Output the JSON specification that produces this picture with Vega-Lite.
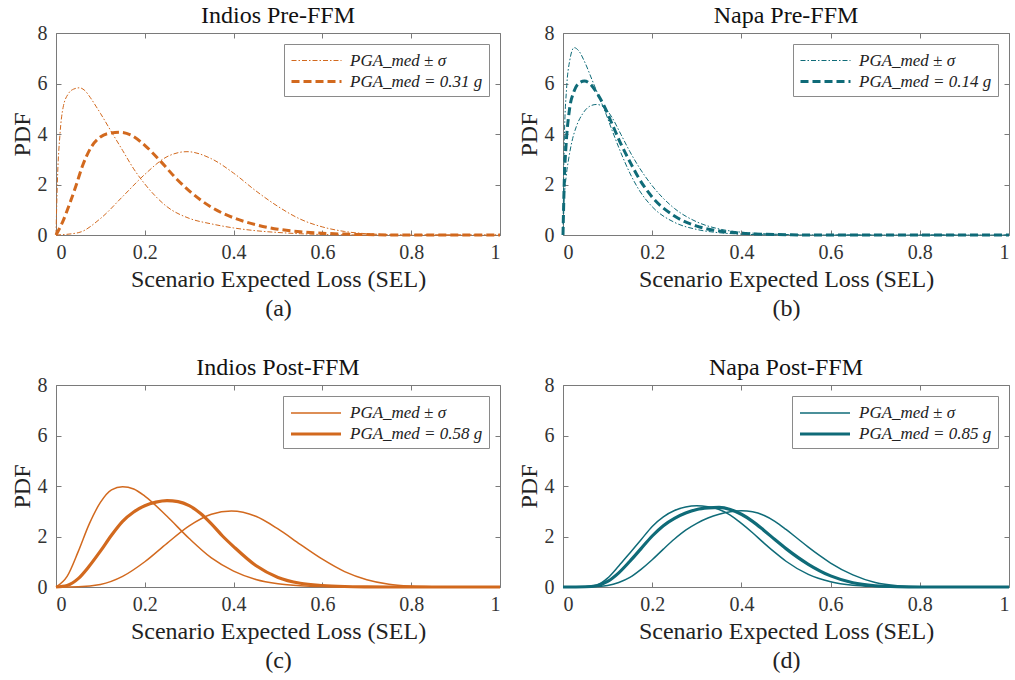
{
"$schema": "https://vega.github.io/schema/vega-lite/v6.json",
"background": "white",
"padding": {"left": 9, "top": 3, "right": 0, "bottom": 0},
"config": {
  "font": "Liberation Serif, Times New Roman, serif",
  "view": {"stroke": "#7a7a7a", "strokeWidth": 1},
  "axis": {"grid": false, "domain": false, "labelFont": "Liberation Serif, Times New Roman, serif", "labelFontSize": 20, "labelColor": "#333333", "titleFont": "Liberation Serif, Times New Roman, serif", "titleFontSize": 24, "titleFontWeight": "normal", "titleColor": "#222222", "tickColor": "#7a7a7a", "tickSize": -5, "labelPadding": 14},
  "axisX": {"titlePadding": 5, "titleLineHeight": 29, "labelPadding": 12},
  "axisY": {"titlePadding": 3},
  "title": {"font": "Liberation Serif, Times New Roman, serif", "fontSize": 24, "fontWeight": "normal", "color": "#111111", "offset": -5},
  "legend": {"labelFont": "Liberation Serif, Times New Roman, serif", "labelFontStyle": "italic", "labelFontSize": 17, "labelColor": "#222222", "strokeColor": "#8a8a8a", "padding": 6, "symbolType": "M-2.5,0H2.5", "symbolSize": 400, "symbolOffset": 15, "labelOffset": 22, "rowPadding": 1, "orient": "top-right", "offset": 11, "title": null, "fillColor": "white"}
},
"resolve": {"scale": {"strokeDash": "independent", "strokeWidth": "independent"}, "legend": {"strokeDash": "independent", "strokeWidth": "independent"}},
"spacing": 34,
"vconcat": [
{"hconcat": [
{
 "width": 444, "height": 202, "title": "Indios Pre-FFM",
 "data": {"values": [
  {"curve":"lo","kind":"PGA_med ± σ","sel":0,"pdf":0},{"curve":"lo","kind":"PGA_med ± σ","sel":0.003,"pdf":2.05},{"curve":"lo","kind":"PGA_med ± σ","sel":0.009,"pdf":4.0},{"curve":"lo","kind":"PGA_med ± σ","sel":0.016,"pdf":5.05},{"curve":"lo","kind":"PGA_med ± σ","sel":0.028,"pdf":5.6},{"curve":"lo","kind":"PGA_med ± σ","sel":0.04,"pdf":5.78},{"curve":"lo","kind":"PGA_med ± σ","sel":0.053,"pdf":5.83},{"curve":"lo","kind":"PGA_med ± σ","sel":0.065,"pdf":5.72},{"curve":"lo","kind":"PGA_med ± σ","sel":0.077,"pdf":5.45},{"curve":"lo","kind":"PGA_med ± σ","sel":0.09,"pdf":5.1},{"curve":"lo","kind":"PGA_med ± σ","sel":0.1,"pdf":4.82},{"curve":"lo","kind":"PGA_med ± σ","sel":0.125,"pdf":4.08},{"curve":"lo","kind":"PGA_med ± σ","sel":0.15,"pdf":3.35},{"curve":"lo","kind":"PGA_med ± σ","sel":0.175,"pdf":2.62},{"curve":"lo","kind":"PGA_med ± σ","sel":0.2,"pdf":2.02},{"curve":"lo","kind":"PGA_med ± σ","sel":0.225,"pdf":1.52},{"curve":"lo","kind":"PGA_med ± σ","sel":0.25,"pdf":1.12},{"curve":"lo","kind":"PGA_med ± σ","sel":0.3,"pdf":0.66},{"curve":"lo","kind":"PGA_med ± σ","sel":0.35,"pdf":0.44},{"curve":"lo","kind":"PGA_med ± σ","sel":0.4,"pdf":0.28},{"curve":"lo","kind":"PGA_med ± σ","sel":0.45,"pdf":0.17},{"curve":"lo","kind":"PGA_med ± σ","sel":0.5,"pdf":0.1},{"curve":"lo","kind":"PGA_med ± σ","sel":0.55,"pdf":0.05},{"curve":"lo","kind":"PGA_med ± σ","sel":0.6,"pdf":0.02},{"curve":"lo","kind":"PGA_med ± σ","sel":0.65,"pdf":0.008},{"curve":"lo","kind":"PGA_med ± σ","sel":0.7,"pdf":0},{"curve":"lo","kind":"PGA_med ± σ","sel":1,"pdf":0},
  {"curve":"med","kind":"PGA_med = 0.31 g","sel":0,"pdf":0},{"curve":"med","kind":"PGA_med = 0.31 g","sel":0.015,"pdf":0.52},{"curve":"med","kind":"PGA_med = 0.31 g","sel":0.03,"pdf":1.2},{"curve":"med","kind":"PGA_med = 0.31 g","sel":0.045,"pdf":1.95},{"curve":"med","kind":"PGA_med = 0.31 g","sel":0.06,"pdf":2.75},{"curve":"med","kind":"PGA_med = 0.31 g","sel":0.08,"pdf":3.5},{"curve":"med","kind":"PGA_med = 0.31 g","sel":0.1,"pdf":3.88},{"curve":"med","kind":"PGA_med = 0.31 g","sel":0.12,"pdf":4.03},{"curve":"med","kind":"PGA_med = 0.31 g","sel":0.145,"pdf":4.07},{"curve":"med","kind":"PGA_med = 0.31 g","sel":0.17,"pdf":3.95},{"curve":"med","kind":"PGA_med = 0.31 g","sel":0.2,"pdf":3.55},{"curve":"med","kind":"PGA_med = 0.31 g","sel":0.234,"pdf":2.95},{"curve":"med","kind":"PGA_med = 0.31 g","sel":0.27,"pdf":2.25},{"curve":"med","kind":"PGA_med = 0.31 g","sel":0.3,"pdf":1.75},{"curve":"med","kind":"PGA_med = 0.31 g","sel":0.35,"pdf":1.1},{"curve":"med","kind":"PGA_med = 0.31 g","sel":0.4,"pdf":0.68},{"curve":"med","kind":"PGA_med = 0.31 g","sel":0.45,"pdf":0.41},{"curve":"med","kind":"PGA_med = 0.31 g","sel":0.5,"pdf":0.23},{"curve":"med","kind":"PGA_med = 0.31 g","sel":0.55,"pdf":0.13},{"curve":"med","kind":"PGA_med = 0.31 g","sel":0.6,"pdf":0.07},{"curve":"med","kind":"PGA_med = 0.31 g","sel":0.65,"pdf":0.035},{"curve":"med","kind":"PGA_med = 0.31 g","sel":0.7,"pdf":0.015},{"curve":"med","kind":"PGA_med = 0.31 g","sel":0.8,"pdf":0},{"curve":"med","kind":"PGA_med = 0.31 g","sel":1,"pdf":0},
  {"curve":"hi","kind":"PGA_med ± σ","sel":0,"pdf":0},{"curve":"hi","kind":"PGA_med ± σ","sel":0.05,"pdf":0.09},{"curve":"hi","kind":"PGA_med ± σ","sel":0.1,"pdf":0.65},{"curve":"hi","kind":"PGA_med ± σ","sel":0.15,"pdf":1.52},{"curve":"hi","kind":"PGA_med ± σ","sel":0.2,"pdf":2.4},{"curve":"hi","kind":"PGA_med ± σ","sel":0.25,"pdf":3.1},{"curve":"hi","kind":"PGA_med ± σ","sel":0.295,"pdf":3.3},{"curve":"hi","kind":"PGA_med ± σ","sel":0.35,"pdf":3.02},{"curve":"hi","kind":"PGA_med ± σ","sel":0.4,"pdf":2.45},{"curve":"hi","kind":"PGA_med ± σ","sel":0.45,"pdf":1.75},{"curve":"hi","kind":"PGA_med ± σ","sel":0.5,"pdf":1.13},{"curve":"hi","kind":"PGA_med ± σ","sel":0.55,"pdf":0.63},{"curve":"hi","kind":"PGA_med ± σ","sel":0.6,"pdf":0.32},{"curve":"hi","kind":"PGA_med ± σ","sel":0.65,"pdf":0.14},{"curve":"hi","kind":"PGA_med ± σ","sel":0.7,"pdf":0.05},{"curve":"hi","kind":"PGA_med ± σ","sel":0.75,"pdf":0.015},{"curve":"hi","kind":"PGA_med ± σ","sel":0.8,"pdf":0},{"curve":"hi","kind":"PGA_med ± σ","sel":1,"pdf":0}
 ]},
 "layer": [
  {"mark": {"type": "line", "interpolate": "monotone", "color": "#D2691E"},
   "encoding": {
    "x": {"field": "sel", "type": "quantitative", "scale": {"domain": [0, 1], "nice": false}, "axis": {"values": [0, 0.2, 0.4, 0.6, 0.8, 1], "format": "~g", "title": ["Scenario Expected Loss (SEL)", "(a)"]}},
    "y": {"field": "pdf", "type": "quantitative", "scale": {"domain": [0, 8], "nice": false}, "axis": {"values": [0, 2, 4, 6, 8], "title": "PDF"}},
    "detail": {"field": "curve"},
    "strokeDash": {"field": "kind", "type": "ordinal", "scale": {"domain": ["PGA_med ± σ", "PGA_med = 0.31 g"], "range": [[5, 2, 1.5, 2], [8, 4]]}, "legend": {"symbolStrokeColor": "#D2691E"}},
    "strokeWidth": {"field": "kind", "type": "ordinal", "scale": {"domain": ["PGA_med ± σ", "PGA_med = 0.31 g"], "range": [1, 3]}, "legend": {"symbolStrokeColor": "#D2691E"}}
   }},
  {"mark": {"type": "line", "opacity": 0},
   "encoding": {
    "x": {"field": "sel", "type": "quantitative", "scale": {"domain": [0, 1], "nice": false}, "axis": {"orient": "top", "values": [0, 0.2, 0.4, 0.6, 0.8, 1], "labels": false, "title": null, "labelPadding": 0, "minExtent": 0, "maxExtent": 0}},
    "y": {"field": "pdf", "type": "quantitative", "scale": {"domain": [0, 8], "nice": false}, "axis": {"orient": "right", "values": [0, 2, 4, 6, 8], "labels": false, "title": null, "labelPadding": 0, "minExtent": 0, "maxExtent": 0}},
    "detail": {"field": "curve"}
   }}
 ],
 "resolve": {"axis": {"x": "independent", "y": "independent"}}
},
{
 "width": 446, "height": 202, "title": "Napa Pre-FFM",
 "data": {"values": [
  {"curve":"lo","kind":"PGA_med ± σ","sel":0,"pdf":0},{"curve":"lo","kind":"PGA_med ± σ","sel":0.003,"pdf":3.8},{"curve":"lo","kind":"PGA_med ± σ","sel":0.008,"pdf":5.8},{"curve":"lo","kind":"PGA_med ± σ","sel":0.015,"pdf":6.9},{"curve":"lo","kind":"PGA_med ± σ","sel":0.025,"pdf":7.42},{"curve":"lo","kind":"PGA_med ± σ","sel":0.035,"pdf":7.3},{"curve":"lo","kind":"PGA_med ± σ","sel":0.05,"pdf":6.8},{"curve":"lo","kind":"PGA_med ± σ","sel":0.065,"pdf":6.15},{"curve":"lo","kind":"PGA_med ± σ","sel":0.08,"pdf":5.5},{"curve":"lo","kind":"PGA_med ± σ","sel":0.093,"pdf":4.95},{"curve":"lo","kind":"PGA_med ± σ","sel":0.11,"pdf":4.15},{"curve":"lo","kind":"PGA_med ± σ","sel":0.13,"pdf":3.25},{"curve":"lo","kind":"PGA_med ± σ","sel":0.15,"pdf":2.45},{"curve":"lo","kind":"PGA_med ± σ","sel":0.17,"pdf":1.8},{"curve":"lo","kind":"PGA_med ± σ","sel":0.2,"pdf":1.12},{"curve":"lo","kind":"PGA_med ± σ","sel":0.25,"pdf":0.5},{"curve":"lo","kind":"PGA_med ± σ","sel":0.3,"pdf":0.22},{"curve":"lo","kind":"PGA_med ± σ","sel":0.35,"pdf":0.09},{"curve":"lo","kind":"PGA_med ± σ","sel":0.4,"pdf":0.035},{"curve":"lo","kind":"PGA_med ± σ","sel":0.45,"pdf":0.01},{"curve":"lo","kind":"PGA_med ± σ","sel":0.5,"pdf":0},{"curve":"lo","kind":"PGA_med ± σ","sel":1,"pdf":0},
  {"curve":"med","kind":"PGA_med = 0.14 g","sel":0,"pdf":0},{"curve":"med","kind":"PGA_med = 0.14 g","sel":0.003,"pdf":2.2},{"curve":"med","kind":"PGA_med = 0.14 g","sel":0.007,"pdf":3.6},{"curve":"med","kind":"PGA_med = 0.14 g","sel":0.014,"pdf":4.9},{"curve":"med","kind":"PGA_med = 0.14 g","sel":0.025,"pdf":5.7},{"curve":"med","kind":"PGA_med = 0.14 g","sel":0.035,"pdf":6.0},{"curve":"med","kind":"PGA_med = 0.14 g","sel":0.048,"pdf":6.1},{"curve":"med","kind":"PGA_med = 0.14 g","sel":0.06,"pdf":6.0},{"curve":"med","kind":"PGA_med = 0.14 g","sel":0.075,"pdf":5.65},{"curve":"med","kind":"PGA_med = 0.14 g","sel":0.093,"pdf":5.08},{"curve":"med","kind":"PGA_med = 0.14 g","sel":0.11,"pdf":4.4},{"curve":"med","kind":"PGA_med = 0.14 g","sel":0.13,"pdf":3.6},{"curve":"med","kind":"PGA_med = 0.14 g","sel":0.15,"pdf":2.9},{"curve":"med","kind":"PGA_med = 0.14 g","sel":0.17,"pdf":2.25},{"curve":"med","kind":"PGA_med = 0.14 g","sel":0.2,"pdf":1.5},{"curve":"med","kind":"PGA_med = 0.14 g","sel":0.25,"pdf":0.75},{"curve":"med","kind":"PGA_med = 0.14 g","sel":0.3,"pdf":0.35},{"curve":"med","kind":"PGA_med = 0.14 g","sel":0.35,"pdf":0.16},{"curve":"med","kind":"PGA_med = 0.14 g","sel":0.4,"pdf":0.07},{"curve":"med","kind":"PGA_med = 0.14 g","sel":0.45,"pdf":0.03},{"curve":"med","kind":"PGA_med = 0.14 g","sel":0.5,"pdf":0.01},{"curve":"med","kind":"PGA_med = 0.14 g","sel":0.55,"pdf":0},{"curve":"med","kind":"PGA_med = 0.14 g","sel":1,"pdf":0},
  {"curve":"hi","kind":"PGA_med ± σ","sel":0,"pdf":0},{"curve":"hi","kind":"PGA_med ± σ","sel":0.003,"pdf":1.5},{"curve":"hi","kind":"PGA_med ± σ","sel":0.007,"pdf":2.3},{"curve":"hi","kind":"PGA_med ± σ","sel":0.013,"pdf":3.05},{"curve":"hi","kind":"PGA_med ± σ","sel":0.02,"pdf":3.7},{"curve":"hi","kind":"PGA_med ± σ","sel":0.03,"pdf":4.3},{"curve":"hi","kind":"PGA_med ± σ","sel":0.044,"pdf":4.8},{"curve":"hi","kind":"PGA_med ± σ","sel":0.06,"pdf":5.1},{"curve":"hi","kind":"PGA_med ± σ","sel":0.075,"pdf":5.17},{"curve":"hi","kind":"PGA_med ± σ","sel":0.093,"pdf":5.05},{"curve":"hi","kind":"PGA_med ± σ","sel":0.11,"pdf":4.65},{"curve":"hi","kind":"PGA_med ± σ","sel":0.13,"pdf":3.98},{"curve":"hi","kind":"PGA_med ± σ","sel":0.15,"pdf":3.3},{"curve":"hi","kind":"PGA_med ± σ","sel":0.17,"pdf":2.7},{"curve":"hi","kind":"PGA_med ± σ","sel":0.2,"pdf":1.95},{"curve":"hi","kind":"PGA_med ± σ","sel":0.25,"pdf":1.05},{"curve":"hi","kind":"PGA_med ± σ","sel":0.3,"pdf":0.52},{"curve":"hi","kind":"PGA_med ± σ","sel":0.35,"pdf":0.24},{"curve":"hi","kind":"PGA_med ± σ","sel":0.4,"pdf":0.11},{"curve":"hi","kind":"PGA_med ± σ","sel":0.45,"pdf":0.05},{"curve":"hi","kind":"PGA_med ± σ","sel":0.5,"pdf":0.02},{"curve":"hi","kind":"PGA_med ± σ","sel":0.55,"pdf":0.008},{"curve":"hi","kind":"PGA_med ± σ","sel":0.6,"pdf":0},{"curve":"hi","kind":"PGA_med ± σ","sel":1,"pdf":0}
 ]},
 "layer": [
  {"mark": {"type": "line", "interpolate": "monotone", "color": "#0F6B78"},
   "encoding": {
    "x": {"field": "sel", "type": "quantitative", "scale": {"domain": [0, 1], "nice": false}, "axis": {"values": [0, 0.2, 0.4, 0.6, 0.8, 1], "format": "~g", "title": ["Scenario Expected Loss (SEL)", "(b)"]}},
    "y": {"field": "pdf", "type": "quantitative", "scale": {"domain": [0, 8], "nice": false}, "axis": {"values": [0, 2, 4, 6, 8], "title": "PDF"}},
    "detail": {"field": "curve"},
    "strokeDash": {"field": "kind", "type": "ordinal", "scale": {"domain": ["PGA_med ± σ", "PGA_med = 0.14 g"], "range": [[5, 2, 1.5, 2], [8, 4]]}, "legend": {"symbolStrokeColor": "#0F6B78"}},
    "strokeWidth": {"field": "kind", "type": "ordinal", "scale": {"domain": ["PGA_med ± σ", "PGA_med = 0.14 g"], "range": [1, 3]}, "legend": {"symbolStrokeColor": "#0F6B78"}}
   }},
  {"mark": {"type": "line", "opacity": 0},
   "encoding": {
    "x": {"field": "sel", "type": "quantitative", "scale": {"domain": [0, 1], "nice": false}, "axis": {"orient": "top", "values": [0, 0.2, 0.4, 0.6, 0.8, 1], "labels": false, "title": null, "labelPadding": 0, "minExtent": 0, "maxExtent": 0}},
    "y": {"field": "pdf", "type": "quantitative", "scale": {"domain": [0, 8], "nice": false}, "axis": {"orient": "right", "values": [0, 2, 4, 6, 8], "labels": false, "title": null, "labelPadding": 0, "minExtent": 0, "maxExtent": 0}},
    "detail": {"field": "curve"}
   }}
 ],
 "resolve": {"axis": {"x": "independent", "y": "independent"}}
}
], "spacing": 9, "resolve": {"scale": {"strokeDash": "independent", "strokeWidth": "independent"}, "legend": {"strokeDash": "independent", "strokeWidth": "independent"}}},
{"hconcat": [
{
 "width": 444, "height": 202, "title": "Indios Post-FFM",
 "data": {"values": [
  {"curve":"lo","kind":"PGA_med ± σ","sel":0,"pdf":0},{"curve":"lo","kind":"PGA_med ± σ","sel":0.025,"pdf":0.42},{"curve":"lo","kind":"PGA_med ± σ","sel":0.05,"pdf":1.4},{"curve":"lo","kind":"PGA_med ± σ","sel":0.075,"pdf":2.5},{"curve":"lo","kind":"PGA_med ± σ","sel":0.1,"pdf":3.35},{"curve":"lo","kind":"PGA_med ± σ","sel":0.125,"pdf":3.85},{"curve":"lo","kind":"PGA_med ± σ","sel":0.15,"pdf":3.97},{"curve":"lo","kind":"PGA_med ± σ","sel":0.175,"pdf":3.88},{"curve":"lo","kind":"PGA_med ± σ","sel":0.2,"pdf":3.6},{"curve":"lo","kind":"PGA_med ± σ","sel":0.25,"pdf":2.8},{"curve":"lo","kind":"PGA_med ± σ","sel":0.3,"pdf":1.92},{"curve":"lo","kind":"PGA_med ± σ","sel":0.35,"pdf":1.15},{"curve":"lo","kind":"PGA_med ± σ","sel":0.4,"pdf":0.63},{"curve":"lo","kind":"PGA_med ± σ","sel":0.45,"pdf":0.3},{"curve":"lo","kind":"PGA_med ± σ","sel":0.5,"pdf":0.13},{"curve":"lo","kind":"PGA_med ± σ","sel":0.55,"pdf":0.05},{"curve":"lo","kind":"PGA_med ± σ","sel":0.6,"pdf":0.015},{"curve":"lo","kind":"PGA_med ± σ","sel":0.65,"pdf":0.004},{"curve":"lo","kind":"PGA_med ± σ","sel":0.7,"pdf":0},{"curve":"lo","kind":"PGA_med ± σ","sel":1,"pdf":0},
  {"curve":"med","kind":"PGA_med = 0.58 g","sel":0,"pdf":0},{"curve":"med","kind":"PGA_med = 0.58 g","sel":0.025,"pdf":0.06},{"curve":"med","kind":"PGA_med = 0.58 g","sel":0.05,"pdf":0.33},{"curve":"med","kind":"PGA_med = 0.58 g","sel":0.075,"pdf":0.83},{"curve":"med","kind":"PGA_med = 0.58 g","sel":0.1,"pdf":1.42},{"curve":"med","kind":"PGA_med = 0.58 g","sel":0.125,"pdf":2.05},{"curve":"med","kind":"PGA_med = 0.58 g","sel":0.15,"pdf":2.6},{"curve":"med","kind":"PGA_med = 0.58 g","sel":0.175,"pdf":2.97},{"curve":"med","kind":"PGA_med = 0.58 g","sel":0.2,"pdf":3.22},{"curve":"med","kind":"PGA_med = 0.58 g","sel":0.225,"pdf":3.36},{"curve":"med","kind":"PGA_med = 0.58 g","sel":0.25,"pdf":3.42},{"curve":"med","kind":"PGA_med = 0.58 g","sel":0.275,"pdf":3.38},{"curve":"med","kind":"PGA_med = 0.58 g","sel":0.3,"pdf":3.22},{"curve":"med","kind":"PGA_med = 0.58 g","sel":0.325,"pdf":2.92},{"curve":"med","kind":"PGA_med = 0.58 g","sel":0.35,"pdf":2.5},{"curve":"med","kind":"PGA_med = 0.58 g","sel":0.375,"pdf":2.02},{"curve":"med","kind":"PGA_med = 0.58 g","sel":0.4,"pdf":1.6},{"curve":"med","kind":"PGA_med = 0.58 g","sel":0.45,"pdf":0.85},{"curve":"med","kind":"PGA_med = 0.58 g","sel":0.5,"pdf":0.38},{"curve":"med","kind":"PGA_med = 0.58 g","sel":0.55,"pdf":0.15},{"curve":"med","kind":"PGA_med = 0.58 g","sel":0.6,"pdf":0.06},{"curve":"med","kind":"PGA_med = 0.58 g","sel":0.65,"pdf":0.02},{"curve":"med","kind":"PGA_med = 0.58 g","sel":0.7,"pdf":0.005},{"curve":"med","kind":"PGA_med = 0.58 g","sel":0.75,"pdf":0},{"curve":"med","kind":"PGA_med = 0.58 g","sel":1,"pdf":0},
  {"curve":"hi","kind":"PGA_med ± σ","sel":0,"pdf":0},{"curve":"hi","kind":"PGA_med ± σ","sel":0.05,"pdf":0.01},{"curve":"hi","kind":"PGA_med ± σ","sel":0.1,"pdf":0.1},{"curve":"hi","kind":"PGA_med ± σ","sel":0.15,"pdf":0.42},{"curve":"hi","kind":"PGA_med ± σ","sel":0.2,"pdf":1.0},{"curve":"hi","kind":"PGA_med ± σ","sel":0.25,"pdf":1.73},{"curve":"hi","kind":"PGA_med ± σ","sel":0.3,"pdf":2.42},{"curve":"hi","kind":"PGA_med ± σ","sel":0.35,"pdf":2.88},{"curve":"hi","kind":"PGA_med ± σ","sel":0.395,"pdf":3.01},{"curve":"hi","kind":"PGA_med ± σ","sel":0.45,"pdf":2.8},{"curve":"hi","kind":"PGA_med ± σ","sel":0.5,"pdf":2.3},{"curve":"hi","kind":"PGA_med ± σ","sel":0.55,"pdf":1.69},{"curve":"hi","kind":"PGA_med ± σ","sel":0.6,"pdf":1.1},{"curve":"hi","kind":"PGA_med ± σ","sel":0.65,"pdf":0.61},{"curve":"hi","kind":"PGA_med ± σ","sel":0.7,"pdf":0.29},{"curve":"hi","kind":"PGA_med ± σ","sel":0.75,"pdf":0.11},{"curve":"hi","kind":"PGA_med ± σ","sel":0.8,"pdf":0.035},{"curve":"hi","kind":"PGA_med ± σ","sel":0.85,"pdf":0.008},{"curve":"hi","kind":"PGA_med ± σ","sel":0.9,"pdf":0},{"curve":"hi","kind":"PGA_med ± σ","sel":1,"pdf":0}
 ]},
 "layer": [
  {"mark": {"type": "line", "interpolate": "monotone", "color": "#D2691E"},
   "encoding": {
    "x": {"field": "sel", "type": "quantitative", "scale": {"domain": [0, 1], "nice": false}, "axis": {"values": [0, 0.2, 0.4, 0.6, 0.8, 1], "format": "~g", "title": ["Scenario Expected Loss (SEL)", "(c)"]}},
    "y": {"field": "pdf", "type": "quantitative", "scale": {"domain": [0, 8], "nice": false}, "axis": {"values": [0, 2, 4, 6, 8], "title": "PDF"}},
    "detail": {"field": "curve"},
    "strokeWidth": {"field": "kind", "type": "ordinal", "scale": {"domain": ["PGA_med ± σ", "PGA_med = 0.58 g"], "range": [1.5, 3.2]}, "legend": {"symbolStrokeColor": "#D2691E"}}
   }},
  {"mark": {"type": "line", "opacity": 0},
   "encoding": {
    "x": {"field": "sel", "type": "quantitative", "scale": {"domain": [0, 1], "nice": false}, "axis": {"orient": "top", "values": [0, 0.2, 0.4, 0.6, 0.8, 1], "labels": false, "title": null, "labelPadding": 0, "minExtent": 0, "maxExtent": 0}},
    "y": {"field": "pdf", "type": "quantitative", "scale": {"domain": [0, 8], "nice": false}, "axis": {"orient": "right", "values": [0, 2, 4, 6, 8], "labels": false, "title": null, "labelPadding": 0, "minExtent": 0, "maxExtent": 0}},
    "detail": {"field": "curve"}
   }}
 ],
 "resolve": {"axis": {"x": "independent", "y": "independent"}}
},
{
 "width": 446, "height": 202, "title": "Napa Post-FFM",
 "data": {"values": [
  {"curve":"lo","kind":"PGA_med ± σ","sel":0,"pdf":0},{"curve":"lo","kind":"PGA_med ± σ","sel":0.05,"pdf":0.01},{"curve":"lo","kind":"PGA_med ± σ","sel":0.075,"pdf":0.07},{"curve":"lo","kind":"PGA_med ± σ","sel":0.1,"pdf":0.35},{"curve":"lo","kind":"PGA_med ± σ","sel":0.125,"pdf":0.83},{"curve":"lo","kind":"PGA_med ± σ","sel":0.15,"pdf":1.35},{"curve":"lo","kind":"PGA_med ± σ","sel":0.175,"pdf":1.87},{"curve":"lo","kind":"PGA_med ± σ","sel":0.2,"pdf":2.4},{"curve":"lo","kind":"PGA_med ± σ","sel":0.225,"pdf":2.78},{"curve":"lo","kind":"PGA_med ± σ","sel":0.25,"pdf":3.03},{"curve":"lo","kind":"PGA_med ± σ","sel":0.275,"pdf":3.17},{"curve":"lo","kind":"PGA_med ± σ","sel":0.3,"pdf":3.22},{"curve":"lo","kind":"PGA_med ± σ","sel":0.325,"pdf":3.18},{"curve":"lo","kind":"PGA_med ± σ","sel":0.35,"pdf":3.07},{"curve":"lo","kind":"PGA_med ± σ","sel":0.375,"pdf":2.85},{"curve":"lo","kind":"PGA_med ± σ","sel":0.4,"pdf":2.52},{"curve":"lo","kind":"PGA_med ± σ","sel":0.425,"pdf":2.15},{"curve":"lo","kind":"PGA_med ± σ","sel":0.45,"pdf":1.75},{"curve":"lo","kind":"PGA_med ± σ","sel":0.475,"pdf":1.37},{"curve":"lo","kind":"PGA_med ± σ","sel":0.5,"pdf":1.02},{"curve":"lo","kind":"PGA_med ± σ","sel":0.55,"pdf":0.5},{"curve":"lo","kind":"PGA_med ± σ","sel":0.6,"pdf":0.21},{"curve":"lo","kind":"PGA_med ± σ","sel":0.65,"pdf":0.07},{"curve":"lo","kind":"PGA_med ± σ","sel":0.7,"pdf":0.02},{"curve":"lo","kind":"PGA_med ± σ","sel":0.75,"pdf":0},{"curve":"lo","kind":"PGA_med ± σ","sel":1,"pdf":0},
  {"curve":"med","kind":"PGA_med = 0.85 g","sel":0,"pdf":0},{"curve":"med","kind":"PGA_med = 0.85 g","sel":0.05,"pdf":0.01},{"curve":"med","kind":"PGA_med = 0.85 g","sel":0.075,"pdf":0.05},{"curve":"med","kind":"PGA_med = 0.85 g","sel":0.1,"pdf":0.22},{"curve":"med","kind":"PGA_med = 0.85 g","sel":0.125,"pdf":0.56},{"curve":"med","kind":"PGA_med = 0.85 g","sel":0.15,"pdf":1.02},{"curve":"med","kind":"PGA_med = 0.85 g","sel":0.175,"pdf":1.52},{"curve":"med","kind":"PGA_med = 0.85 g","sel":0.2,"pdf":2.02},{"curve":"med","kind":"PGA_med = 0.85 g","sel":0.225,"pdf":2.43},{"curve":"med","kind":"PGA_med = 0.85 g","sel":0.25,"pdf":2.72},{"curve":"med","kind":"PGA_med = 0.85 g","sel":0.275,"pdf":2.93},{"curve":"med","kind":"PGA_med = 0.85 g","sel":0.3,"pdf":3.07},{"curve":"med","kind":"PGA_med = 0.85 g","sel":0.325,"pdf":3.13},{"curve":"med","kind":"PGA_med = 0.85 g","sel":0.35,"pdf":3.15},{"curve":"med","kind":"PGA_med = 0.85 g","sel":0.375,"pdf":3.07},{"curve":"med","kind":"PGA_med = 0.85 g","sel":0.4,"pdf":2.88},{"curve":"med","kind":"PGA_med = 0.85 g","sel":0.425,"pdf":2.6},{"curve":"med","kind":"PGA_med = 0.85 g","sel":0.45,"pdf":2.25},{"curve":"med","kind":"PGA_med = 0.85 g","sel":0.475,"pdf":1.88},{"curve":"med","kind":"PGA_med = 0.85 g","sel":0.5,"pdf":1.52},{"curve":"med","kind":"PGA_med = 0.85 g","sel":0.55,"pdf":0.9},{"curve":"med","kind":"PGA_med = 0.85 g","sel":0.6,"pdf":0.44},{"curve":"med","kind":"PGA_med = 0.85 g","sel":0.65,"pdf":0.17},{"curve":"med","kind":"PGA_med = 0.85 g","sel":0.7,"pdf":0.05},{"curve":"med","kind":"PGA_med = 0.85 g","sel":0.75,"pdf":0.01},{"curve":"med","kind":"PGA_med = 0.85 g","sel":0.8,"pdf":0},{"curve":"med","kind":"PGA_med = 0.85 g","sel":1,"pdf":0},
  {"curve":"hi","kind":"PGA_med ± σ","sel":0,"pdf":0},{"curve":"hi","kind":"PGA_med ± σ","sel":0.05,"pdf":0.005},{"curve":"hi","kind":"PGA_med ± σ","sel":0.075,"pdf":0.02},{"curve":"hi","kind":"PGA_med ± σ","sel":0.1,"pdf":0.06},{"curve":"hi","kind":"PGA_med ± σ","sel":0.125,"pdf":0.18},{"curve":"hi","kind":"PGA_med ± σ","sel":0.15,"pdf":0.38},{"curve":"hi","kind":"PGA_med ± σ","sel":0.175,"pdf":0.7},{"curve":"hi","kind":"PGA_med ± σ","sel":0.2,"pdf":1.08},{"curve":"hi","kind":"PGA_med ± σ","sel":0.225,"pdf":1.5},{"curve":"hi","kind":"PGA_med ± σ","sel":0.25,"pdf":1.9},{"curve":"hi","kind":"PGA_med ± σ","sel":0.275,"pdf":2.25},{"curve":"hi","kind":"PGA_med ± σ","sel":0.3,"pdf":2.52},{"curve":"hi","kind":"PGA_med ± σ","sel":0.325,"pdf":2.73},{"curve":"hi","kind":"PGA_med ± σ","sel":0.35,"pdf":2.88},{"curve":"hi","kind":"PGA_med ± σ","sel":0.375,"pdf":2.98},{"curve":"hi","kind":"PGA_med ± σ","sel":0.4,"pdf":3.02},{"curve":"hi","kind":"PGA_med ± σ","sel":0.425,"pdf":2.98},{"curve":"hi","kind":"PGA_med ± σ","sel":0.45,"pdf":2.84},{"curve":"hi","kind":"PGA_med ± σ","sel":0.475,"pdf":2.6},{"curve":"hi","kind":"PGA_med ± σ","sel":0.5,"pdf":2.28},{"curve":"hi","kind":"PGA_med ± σ","sel":0.525,"pdf":1.93},{"curve":"hi","kind":"PGA_med ± σ","sel":0.55,"pdf":1.58},{"curve":"hi","kind":"PGA_med ± σ","sel":0.575,"pdf":1.25},{"curve":"hi","kind":"PGA_med ± σ","sel":0.6,"pdf":0.95},{"curve":"hi","kind":"PGA_med ± σ","sel":0.65,"pdf":0.48},{"curve":"hi","kind":"PGA_med ± σ","sel":0.7,"pdf":0.18},{"curve":"hi","kind":"PGA_med ± σ","sel":0.75,"pdf":0.05},{"curve":"hi","kind":"PGA_med ± σ","sel":0.8,"pdf":0.01},{"curve":"hi","kind":"PGA_med ± σ","sel":0.85,"pdf":0},{"curve":"hi","kind":"PGA_med ± σ","sel":1,"pdf":0}
 ]},
 "layer": [
  {"mark": {"type": "line", "interpolate": "monotone", "color": "#0F6B78"},
   "encoding": {
    "x": {"field": "sel", "type": "quantitative", "scale": {"domain": [0, 1], "nice": false}, "axis": {"values": [0, 0.2, 0.4, 0.6, 0.8, 1], "format": "~g", "title": ["Scenario Expected Loss (SEL)", "(d)"]}},
    "y": {"field": "pdf", "type": "quantitative", "scale": {"domain": [0, 8], "nice": false}, "axis": {"values": [0, 2, 4, 6, 8], "title": "PDF"}},
    "detail": {"field": "curve"},
    "strokeWidth": {"field": "kind", "type": "ordinal", "scale": {"domain": ["PGA_med ± σ", "PGA_med = 0.85 g"], "range": [1.5, 3.2]}, "legend": {"symbolStrokeColor": "#0F6B78"}}
   }},
  {"mark": {"type": "line", "opacity": 0},
   "encoding": {
    "x": {"field": "sel", "type": "quantitative", "scale": {"domain": [0, 1], "nice": false}, "axis": {"orient": "top", "values": [0, 0.2, 0.4, 0.6, 0.8, 1], "labels": false, "title": null, "labelPadding": 0, "minExtent": 0, "maxExtent": 0}},
    "y": {"field": "pdf", "type": "quantitative", "scale": {"domain": [0, 8], "nice": false}, "axis": {"orient": "right", "values": [0, 2, 4, 6, 8], "labels": false, "title": null, "labelPadding": 0, "minExtent": 0, "maxExtent": 0}},
    "detail": {"field": "curve"}
   }}
 ],
 "resolve": {"axis": {"x": "independent", "y": "independent"}}
}
], "spacing": 9, "resolve": {"scale": {"strokeDash": "independent", "strokeWidth": "independent"}, "legend": {"strokeDash": "independent", "strokeWidth": "independent"}}}
]
}
